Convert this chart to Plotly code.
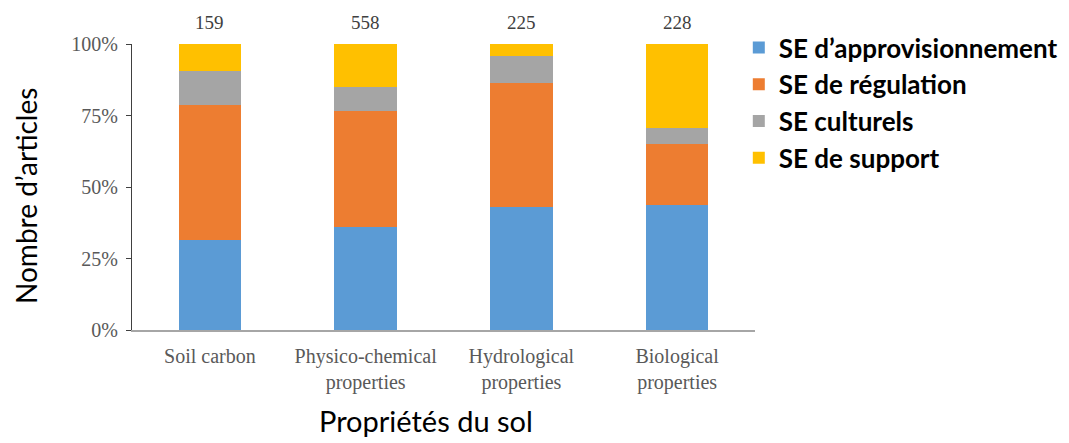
import plotly.graph_objects as go

# categories (x axis), two-line labels as in the reference
categories = ["Soil carbon", "Physico-chemical<br>properties",
              "Hydrological<br>properties", "Biological<br>properties"]
totals = [159, 558, 225, 228]

# share of articles (%) per ecosystem service type
approvisionnement = [31.6, 35.9, 42.9, 43.6]
regulation = [46.9, 40.8, 43.5, 21.6]
culturels = [11.9, 8.2, 9.5, 5.6]
support = [9.6, 15.1, 4.1, 29.2]

y_ticks = [0, 25, 50, 75, 100]
y_ticktext = ["0%", "25%", "50%", "75%", "100%"]

series = [
    ("SE d\u2019approvisionnement", approvisionnement, "#5B9BD5"),
    ("SE de régulation", regulation, "#ED7D31"),
    ("SE culturels", culturels, "#A5A5A5"),
    ("SE de support", support, "#FFC000"),
]

fig = go.Figure()
for i, (name, vals, color) in enumerate(series):
    fig.add_trace(go.Bar(
        x=categories, y=vals, name=name,
        marker=dict(color=color, line=dict(width=0)),
        legendgroup=str(i),
    ))

# totals above each bar
for cat, n in zip(categories, totals):
    fig.add_annotation(
        x=cat, y=100, yref="y", text=str(n), showarrow=False,
        yanchor="bottom", yshift=9,
        font=dict(family="Liberation Serif", size=19, color="#404040"),
    )

# axis titles as annotations for exact placement
fig.add_annotation(
    text="Nombre d\u2019articles", xref="paper", yref="paper",
    x=-0.17, y=0.469, xanchor="center", yanchor="middle",
    textangle=-90, showarrow=False,
    font=dict(family="Lato", size=28, color="#000000"),
)
fig.add_annotation(
    text="Propriétés du sol", xref="paper", yref="paper",
    x=0.472, y=-0.315, xanchor="center", yanchor="middle", showarrow=False,
    font=dict(family="Lato", size=29, color="#000000"),
)

# the page adds an 8px body margin, so the figure is 8px smaller
fig.update_layout(
    width=1061, height=435,
    barmode="stack", bargap=0.6,
    plot_bgcolor="white", paper_bgcolor="white",
    margin=dict(l=124, r=314, t=36, b=113, autoexpand=False),
    showlegend=True,
    legend=dict(
        x=0.974, y=1.07, xanchor="left", yanchor="top",
        traceorder="grouped", tracegroupgap=0,
        font=dict(family="Lato", size=26, color="#000000", weight="bold"),
        itemwidth=30,
    ),
    xaxis=dict(
        showline=True, linecolor="#A6A6A6", linewidth=1.5,
        ticks="", showgrid=False, ticklabelstandoff=7,
        tickfont=dict(family="Liberation Serif", size=20, color="#595959"),
    ),
    yaxis=dict(
        range=[0, 100], tickvals=y_ticks, ticktext=y_ticktext,
        showline=True, linecolor="#404040", linewidth=1,
        ticks="outside", ticklen=5, tickcolor="#404040",
        showgrid=False, zeroline=False, ticklabelstandoff=4,
        tickfont=dict(family="Liberation Serif", size=20, color="#595959"),
    ),
)

fig.write_html("out.html")
